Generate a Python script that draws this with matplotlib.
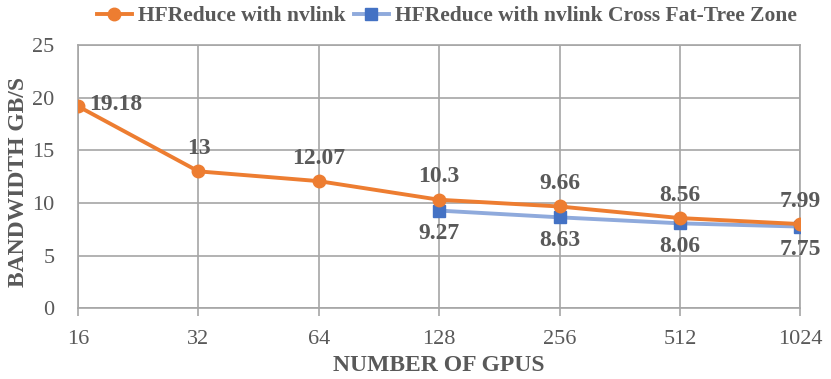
import matplotlib.pyplot as plt

gpus = ["16", "32", "64", "128", "256", "512", "1024"]
hf_nvlink = [19.18, 13, 12.07, 10.3, 9.66, 8.56, 7.99]
cross_pos = [3, 4, 5, 6]
hf_cross = [9.27, 8.63, 8.06, 7.75]

plt.rcParams['font.family'] = ['Liberation Serif', 'DejaVu Serif']
txt = '#595959'

fig = plt.figure(figsize=(8.31, 3.79), dpi=100)
ax = fig.add_axes([0.094, 0.187, 0.869, 0.694])

x = list(range(len(gpus)))
ax.plot(x, hf_nvlink, color='#ED7D31', lw=2.8, marker='o', ms=9,
        label='HFReduce with nvlink', zorder=4)
ax.plot(cross_pos, hf_cross, color='#8FAADC', lw=2.8, marker='s', ms=8,
        mfc='#4472C4', mec='#4472C4', label='HFReduce with nvlink Cross Fat-Tree Zone', zorder=3)

for i, v in enumerate(hf_nvlink):
    if i == 0:
        ax.annotate(f'{v:g}', (i, v), xytext=(8, 1), textcoords='offset points',
                    ha='left', va='center', fontsize=17, fontweight='bold', color=txt)
    else:
        ax.annotate(f'{v:g}', (i, v), xytext=(0, 9), textcoords='offset points',
                    ha='center', va='bottom', fontsize=17, fontweight='bold', color=txt)
for p, v in zip(cross_pos, hf_cross):
    ax.annotate(f'{v:g}', (p, v), xytext=(0, -9), textcoords='offset points',
                ha='center', va='top', fontsize=17, fontweight='bold', color=txt)

ax.set_xlim(0, 6)
ax.set_ylim(0, 25)
ax.set_yticks([0, 5, 10, 15, 20, 25])
ax.set_xticks(x)
ax.set_xticklabels(gpus)
ax.grid(True, color='#a6a6a6', lw=1.2)
ax.set_axisbelow(True)
for s in ax.spines.values():
    s.set_color('#a6a6a6')
    s.set_linewidth(1.2)
ax.tick_params(axis='y', length=0, pad=17, labelsize=16, labelcolor=txt)
ax.tick_params(axis='x', length=6, color='#a6a6a6', width=1.2, pad=10, labelsize=16, labelcolor=txt)

ax.set_xlabel('NUMBER OF GPUS', fontsize=17, fontweight='bold', color=txt, labelpad=4)
ax.set_ylabel('BANDWIDTH GB/S', fontsize=17, fontweight='bold', color=txt)
ax.yaxis.set_label_coords(-0.068, 0.48)

fig.legend(loc='upper center', bbox_to_anchor=(0.538, 1.035), ncol=2, frameon=False,
           prop={'weight': 'bold', 'size': 15.5}, labelcolor=txt,
           handlelength=1.6, columnspacing=0.4, handletextpad=0.3)

fig.savefig('out.png', dpi=100)
